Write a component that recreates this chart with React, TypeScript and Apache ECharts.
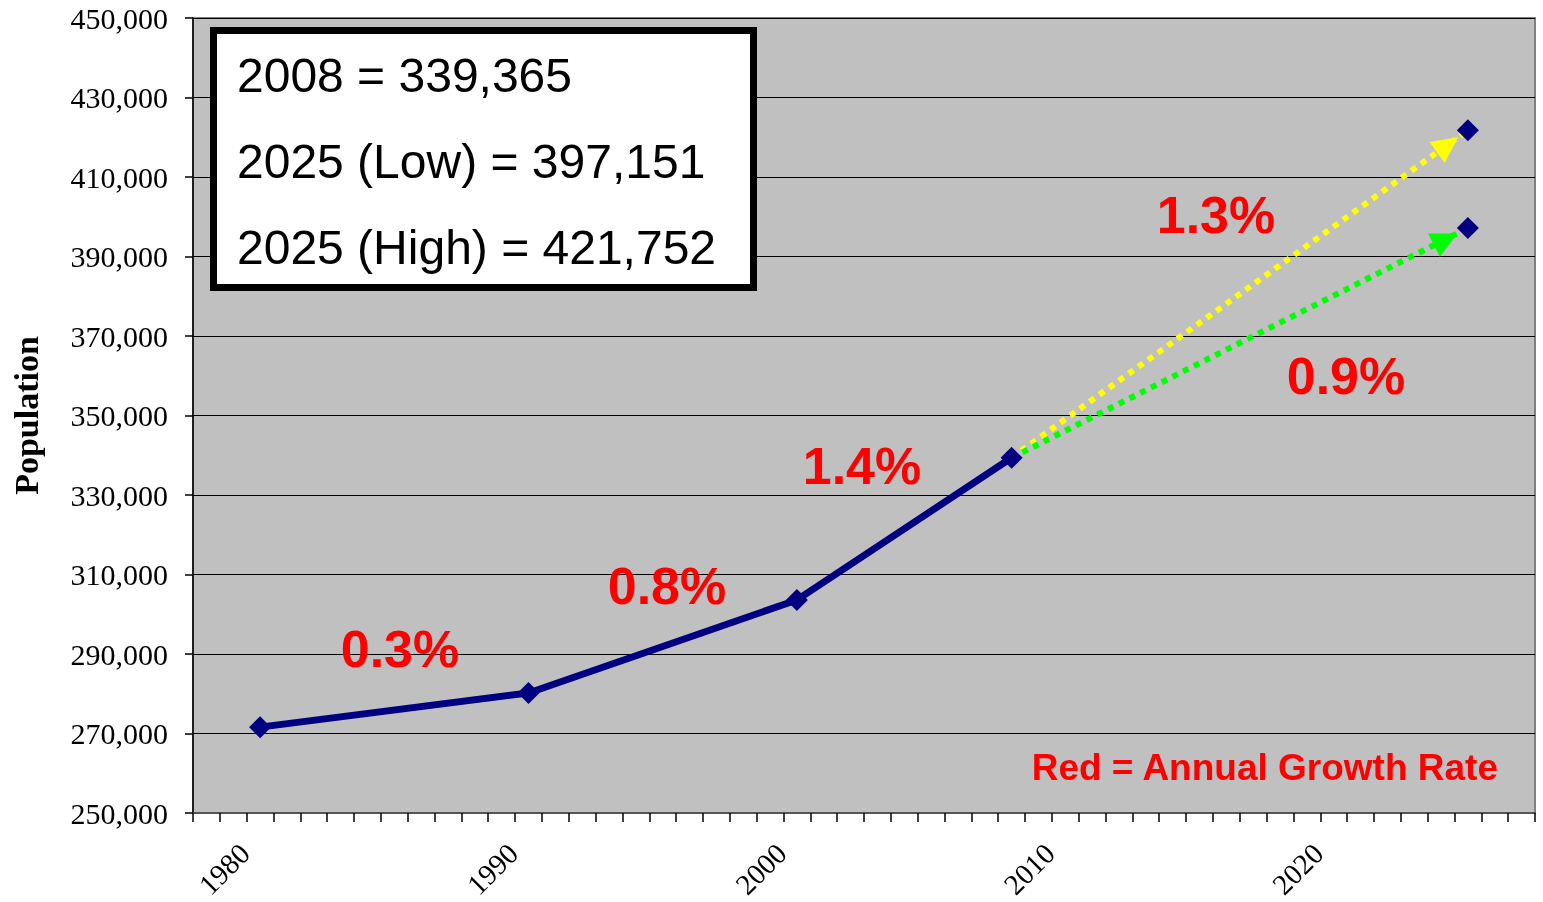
import React, { useEffect, useRef } from "react";
import * as echarts from "echarts";

// ---- data ----
const years = [
  "1978", "1979", "1980", "1981", "1982", "1983", "1984", "1985", "1986", "1987",
  "1988", "1989", "1990", "1991", "1992", "1993", "1994", "1995", "1996", "1997",
  "1998", "1999", "2000", "2001", "2002", "2003", "2004", "2005", "2006", "2007",
  "2008", "2009", "2010", "2011", "2012", "2013", "2014", "2015", "2016", "2017",
  "2018", "2019", "2020", "2021", "2022", "2023", "2024", "2025", "2026", "2027",
];
const labelYears = ["1980", "1990", "2000", "2010", "2020"];
const historyYears = ["1980", "1990", "2000", "2008"];
const historyValues = [271600, 280200, 303600, 339365];
const projectionYear = "2025";
const projectionLow = 397151;
const projectionHigh = 421752;
const historyRates = ["0.3%", "0.8%", "1.4%"];
const highRate = "1.3%";
const lowRate = "0.9%";
const boxLines = ["2008 = 339,365", "2025 (Low) = 397,151", "2025 (High) = 421,752"];
const yMin = 250000;
const yMax = 450000;
const yStep = 20000;

// ---- layout (pixels) ----
const rateLabelPos = [
  [400, 649],
  [667, 586],
  [862, 466],
];
const highRatePos = [1216, 215];
const lowRatePos = [1346, 376];

const serif = '"Liberation Serif", "Times New Roman", serif';
const sans = '"Liberation Sans", Arial, sans-serif';

export default function App() {
  const ref = useRef<HTMLDivElement>(null);

  useEffect(() => {
    if (!ref.current) return;
    const chart = echarts.init(ref.current, null, { renderer: "svg" });

    const lastHist = historyYears.length - 1;
    const baseYear = historyYears[lastHist];
    const baseValue = historyValues[lastHist];

    const redText = (t: string, x: number, y: number) => ({
      type: "text",
      x,
      y,
      z: 100,
      style: {
        text: t,
        fill: "#FF0000",
        fontSize: 52,
        fontWeight: "bold",
        fontFamily: sans,
        align: "center",
        verticalAlign: "middle",
      },
    });

    const rateTexts = historyRates.map((t, i) => redText(t, rateLabelPos[i][0], rateLabelPos[i][1]));

    const boxTexts = boxLines.map((t, i) => ({
      type: "text",
      x: 237,
      y: 75 + i * 86,
      z: 101,
      style: {
        text: t,
        fill: "#000",
        fontSize: 48,
        fontFamily: sans,
        align: "left",
        verticalAlign: "middle",
      },
    }));

    const dotted = (color: string) => ({
      lineStyle: { color, width: 6, type: [6, 6], cap: "butt" },
      itemStyle: { color },
    });

    const option: any = {
      animation: false,
      grid: {
        left: 193,
        right: 8,
        top: 18,
        bottom: 89,
        containLabel: false,
        outerBoundsMode: "none",
        show: true,
        backgroundColor: "#C0C0C0",
        borderColor: "#808080",
        borderWidth: 2,
      },
      xAxis: {
        type: "category",
        data: years,
        boundaryGap: true,
        axisLine: { show: true, lineStyle: { color: "#555", width: 2 } },
        axisTick: { show: true, interval: 0, length: 9, lineStyle: { color: "#000", width: 1.5 } },
        axisLabel: {
          interval: (_i: number, v: string) => labelYears.includes(v),
          rotate: 45,
          margin: 20,
          padding: [0, 22, 0, 0],
          fontFamily: serif,
          fontSize: 29,
          color: "#000",
        },
        splitLine: { show: false },
      },
      yAxis: {
        type: "value",
        min: yMin,
        max: yMax,
        interval: yStep,
        name: "Population",
        nameLocation: "middle",
        nameGap: 150,
        nameTextStyle: { fontFamily: serif, fontSize: 34, fontWeight: "bold", color: "#000" },
        axisLine: { show: true, lineStyle: { color: "#000", width: 1.5 } },
        axisTick: { show: true, length: 8, lineStyle: { color: "#000", width: 1.5 } },
        axisLabel: {
          margin: 25,
          fontFamily: serif,
          fontSize: 30,
          color: "#000",
          formatter: (v: number) => v.toLocaleString("en-US"),
        },
        splitLine: { show: true, lineStyle: { color: "#000", width: 1 } },
      },
      series: [
        {
          type: "line",
          z: 3,
          data: [],
          markLine: {
            z: 3,
            silent: true,
            symbol: ["none", "triangle"],
            symbolSize: 26,
            symbolOffset: [0, [0, 25]],
            label: { show: false },
            emphasis: { disabled: true },
            data: [
              [
                { coord: [baseYear, baseValue], ...dotted("#FFFF00") },
                { coord: [projectionYear, projectionHigh], ...dotted("#FFFF00") },
              ],
              [
                { coord: [baseYear, baseValue], ...dotted("#00FF00") },
                { coord: [projectionYear, projectionLow], ...dotted("#00FF00") },
              ],
            ],
          },
        },
        {
          type: "line",
          z: 10,
          data: historyYears.map((y, i) => [y, historyValues[i]]),
          symbol: "diamond",
          symbolSize: 22,
          showSymbol: true,
          showAllSymbol: true,
          lineStyle: { color: "#000080", width: 7 },
          itemStyle: { color: "#000080", opacity: 1 },
        },
        {
          type: "scatter",
          z: 10,
          data: [
            [projectionYear, projectionLow],
            [projectionYear, projectionHigh],
          ],
          symbol: "diamond",
          symbolSize: 22,
          itemStyle: { color: "#000080", opacity: 1 },
        },
      ],
      graphic: [
        {
          type: "rect",
          z: 100,
          shape: { x: 213.5, y: 30.5, width: 540, height: 257 },
          style: { fill: "#FFFFFF", stroke: "#000000", lineWidth: 7 },
        },
        ...boxTexts,
        ...rateTexts,
        redText(highRate, highRatePos[0], highRatePos[1]),
        redText(lowRate, lowRatePos[0], lowRatePos[1]),
        {
          type: "text",
          x: 1498,
          y: 767,
          z: 100,
          style: {
            text: "Red = Annual Growth Rate",
            fill: "#FF0000",
            fontSize: 37,
            fontWeight: "bold",
            fontFamily: sans,
            align: "right",
            verticalAlign: "middle",
          },
        },
      ],
    };

    chart.setOption(option);
    return () => chart.dispose();
  }, []);

  return (
    <div
      ref={ref}
      style={{ position: "fixed", left: 0, top: 0, width: 1543, height: 902 }}
    />
  );
}
